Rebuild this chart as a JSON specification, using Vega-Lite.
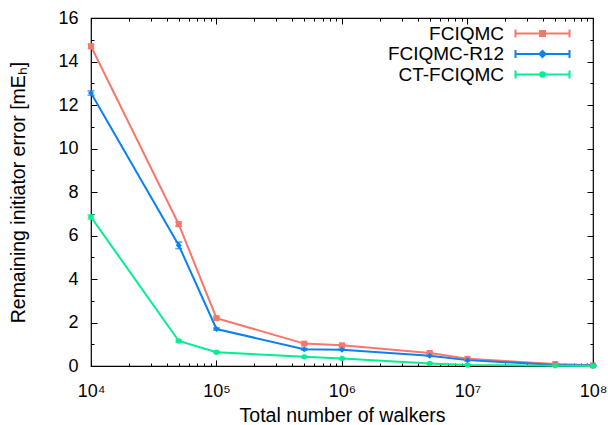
{
  "$schema": "https://vega.github.io/schema/vega-lite/v6.json",
  "width": 502,
  "height": 348,
  "autosize": "none",
  "padding": {"left": 91, "top": 18, "right": 15, "bottom": 59},
  "background": "white",
  "config": {
    "view": {"stroke": "black", "strokeWidth": 1.2},
    "font": "Liberation Sans",
    "axis": {
      "domain": false,
      "grid": false,
      "tickColor": "black",
      "tickWidth": 1,
      "labelColor": "black",
      "labelFont": "Liberation Sans",
      "labelFontSize": 18,
      "titleFont": "Liberation Sans",
      "titleFontSize": 19.5,
      "titleFontWeight": "normal",
      "titleColor": "black"
    }
  },
  "data": {
    "values": [
      {"walkers": 10000, "series": "FCIQMC", "value": 14.7, "err": 0.1},
      {"walkers": 50000, "series": "FCIQMC", "value": 6.52, "err": 0.1},
      {"walkers": 100000, "series": "FCIQMC", "value": 2.2, "err": 0.05},
      {"walkers": 500000, "series": "FCIQMC", "value": 1.03, "err": 0.04},
      {"walkers": 1000000, "series": "FCIQMC", "value": 0.95, "err": 0.03},
      {"walkers": 5000000, "series": "FCIQMC", "value": 0.6, "err": 0.03},
      {"walkers": 10000000, "series": "FCIQMC", "value": 0.33, "err": 0.02},
      {"walkers": 50000000, "series": "FCIQMC", "value": 0.09, "err": 0.02},
      {"walkers": 100000000, "series": "FCIQMC", "value": 0.03, "err": 0.01},
      {"walkers": 10000, "series": "FCIQMC-R12", "value": 12.55, "err": 0.1},
      {"walkers": 50000, "series": "FCIQMC-R12", "value": 5.55, "err": 0.15},
      {"walkers": 100000, "series": "FCIQMC-R12", "value": 1.7, "err": 0.05},
      {"walkers": 500000, "series": "FCIQMC-R12", "value": 0.77, "err": 0.04},
      {"walkers": 1000000, "series": "FCIQMC-R12", "value": 0.75, "err": 0.03},
      {"walkers": 5000000, "series": "FCIQMC-R12", "value": 0.47, "err": 0.03},
      {"walkers": 10000000, "series": "FCIQMC-R12", "value": 0.27, "err": 0.02},
      {"walkers": 50000000, "series": "FCIQMC-R12", "value": 0.05, "err": 0.02},
      {"walkers": 100000000, "series": "FCIQMC-R12", "value": 0.02, "err": 0.01},
      {"walkers": 10000, "series": "CT-FCIQMC", "value": 6.85, "err": 0.1},
      {"walkers": 50000, "series": "CT-FCIQMC", "value": 1.15, "err": 0.05},
      {"walkers": 100000, "series": "CT-FCIQMC", "value": 0.63, "err": 0.04},
      {"walkers": 500000, "series": "CT-FCIQMC", "value": 0.42, "err": 0.03},
      {"walkers": 1000000, "series": "CT-FCIQMC", "value": 0.34, "err": 0.03},
      {"walkers": 5000000, "series": "CT-FCIQMC", "value": 0.12, "err": 0.02},
      {"walkers": 10000000, "series": "CT-FCIQMC", "value": 0.05, "err": 0.02},
      {"walkers": 50000000, "series": "CT-FCIQMC", "value": 0.01, "err": 0.01},
      {"walkers": 100000000, "series": "CT-FCIQMC", "value": 0.005, "err": 0.005}
    ]
  },
  "transform": [
    {"calculate": "datum.value - datum.err", "as": "lo"},
    {"calculate": "datum.value + datum.err", "as": "hi"}
  ],
  "resolve": {"axis": {"x": "independent", "y": "independent"}},
  "layer": [
    {
      "mark": {"type": "rule", "strokeWidth": 1.5},
      "encoding": {
        "x": {"field": "walkers", "type": "quantitative", "scale": {"type": "log", "domain": [10000, 100000000], "nice": false},
              "axis": {"orient": "top", "values": [10000, 100000, 1000000, 10000000, 100000000], "labels": false, "tickSize": -6, "title": null}},
        "y": {"field": "lo", "type": "quantitative", "scale": {"domain": [0, 16], "nice": false, "zero": false},
              "axis": {"orient": "right", "values": [0, 2, 4, 6, 8, 10, 12, 14, 16], "labels": false, "tickSize": -6, "title": null}},
        "y2": {"field": "hi"},
        "color": {"field": "series", "type": "nominal"}
      }
    },
    {
      "mark": {"type": "tick", "orient": "horizontal", "size": 7, "thickness": 1.5},
      "encoding": {
        "x": {"field": "walkers", "type": "quantitative",
              "axis": {"orient": "top", "values": [20000, 30000, 40000, 50000, 60000, 70000, 80000, 90000, 200000, 300000, 400000, 500000, 600000, 700000, 800000, 900000, 2000000, 3000000, 4000000, 5000000, 6000000, 7000000, 8000000, 9000000, 20000000, 30000000, 40000000, 50000000, 60000000, 70000000, 80000000, 90000000], "labels": false, "tickSize": -3, "title": null}},
        "y": {"field": "hi", "type": "quantitative",
              "axis": {"orient": "right", "values": [1, 3, 5, 7, 9, 11, 13, 15], "labels": false, "tickSize": -3, "title": null}},
        "color": {"field": "series", "type": "nominal"}
      }
    },
    {
      "mark": {"type": "tick", "orient": "horizontal", "size": 7, "thickness": 1.5},
      "encoding": {
        "x": {"field": "walkers", "type": "quantitative", "axis": null},
        "y": {"field": "lo", "type": "quantitative", "axis": null},
        "color": {"field": "series", "type": "nominal"}
      }
    },
    {
      "mark": {"type": "line", "strokeWidth": 2},
      "encoding": {
        "x": {"field": "walkers", "type": "quantitative",
              "axis": {"orient": "bottom", "values": [10000, 100000, 1000000, 10000000, 100000000], "tickSize": -6, "labelPadding": 22,
                       "labelExpr": "'10' + ['⁰','¹','²','³','⁴','⁵','⁶','⁷','⁸'][round(log(datum.value)/LN10)]",
                       "labelFlush": false,
                       "title": "Total number of walkers", "titleY": 49, "titleBaseline": "middle"}},
        "y": {"field": "value", "type": "quantitative",
              "axis": {"orient": "left", "values": [0, 2, 4, 6, 8, 10, 12, 14, 16], "tickSize": -6, "labelPadding": 19,
                       "labelFlush": false,
                       "title": "Remaining initiator error [mEₕ]", "titleX": -73, "titleY": 174, "titleAngle": -90, "titleAlign": "center", "titleBaseline": "middle"}},
        "color": {
          "field": "series", "type": "nominal",
          "scale": {"domain": ["FCIQMC", "FCIQMC-R12", "CT-FCIQMC"], "range": ["#f7776d", "#0a80f2", "#00ef90"]},
          "legend": {
            "title": null,
            "orient": "none",
            "legendX": 442,
            "legendY": 6,
            "padding": 0,
            "symbolSize": 100,
            "symbolStrokeWidth": 2,
            "symbolOffset": 0,
            "labelOffset": -48,
            "labelAlign": "right",
            "labelFont": "Liberation Sans",
            "labelFontSize": 19,
            "labelColor": "black",
            "rowPadding": 0.5,
            "encode": {
              "symbols": {
                "update": {
                  "shape": {"signal": "datum.value === 'FCIQMC' ? 'M-5.4,0H5.4M-5.4,-0.8V0.8M5.4,-0.8V0.8M-0.5,-0.5H0.5V0.5H-0.5Z' : datum.value === 'FCIQMC-R12' ? 'M-5.4,0H5.4M-5.4,-0.8V0.8M5.4,-0.8V0.8M0,-0.6L0.6,0L0,0.6L-0.6,0Z' : 'M-5.4,0H5.4M-5.4,-0.8V0.8M5.4,-0.8V0.8M-0.45,0A0.45,0.45 0 1,0 0.45,0A0.45,0.45 0 1,0 -0.45,0Z'"},
                  "fill": {"scale": "color", "field": "value"},
                  "stroke": {"scale": "color", "field": "value"},
                  "strokeWidth": {"value": 2},
                  "opacity": {"value": 1}
                }
              }
            }
          }
        }
      }
    },
    {
      "transform": [{"filter": "datum.series === 'FCIQMC'"}],
      "mark": {"type": "point", "filled": true, "opacity": 1, "size": 36, "shape": "square"},
      "encoding": {
        "x": {"field": "walkers", "type": "quantitative",
              "axis": {"orient": "bottom", "values": [20000, 30000, 40000, 50000, 60000, 70000, 80000, 90000, 200000, 300000, 400000, 500000, 600000, 700000, 800000, 900000, 2000000, 3000000, 4000000, 5000000, 6000000, 7000000, 8000000, 9000000, 20000000, 30000000, 40000000, 50000000, 60000000, 70000000, 80000000, 90000000], "labels": false, "tickSize": -3, "title": null}},
        "y": {"field": "value", "type": "quantitative",
              "axis": {"orient": "left", "values": [1, 3, 5, 7, 9, 11, 13, 15], "labels": false, "tickSize": -3, "title": null}},
        "color": {"field": "series", "type": "nominal"}
      }
    },
    {
      "transform": [{"filter": "datum.series === 'FCIQMC-R12'"}],
      "mark": {"type": "point", "filled": true, "opacity": 1, "size": 36, "shape": "diamond"},
      "encoding": {
        "x": {"field": "walkers", "type": "quantitative", "axis": null},
        "y": {"field": "value", "type": "quantitative", "axis": null},
        "color": {"field": "series", "type": "nominal"}
      }
    },
    {
      "transform": [{"filter": "datum.series === 'CT-FCIQMC'"}],
      "mark": {"type": "point", "filled": true, "opacity": 1, "size": 30, "shape": "circle"},
      "encoding": {
        "x": {"field": "walkers", "type": "quantitative", "axis": null},
        "y": {"field": "value", "type": "quantitative", "axis": null},
        "color": {"field": "series", "type": "nominal"}
      }
    }
  ]
}
